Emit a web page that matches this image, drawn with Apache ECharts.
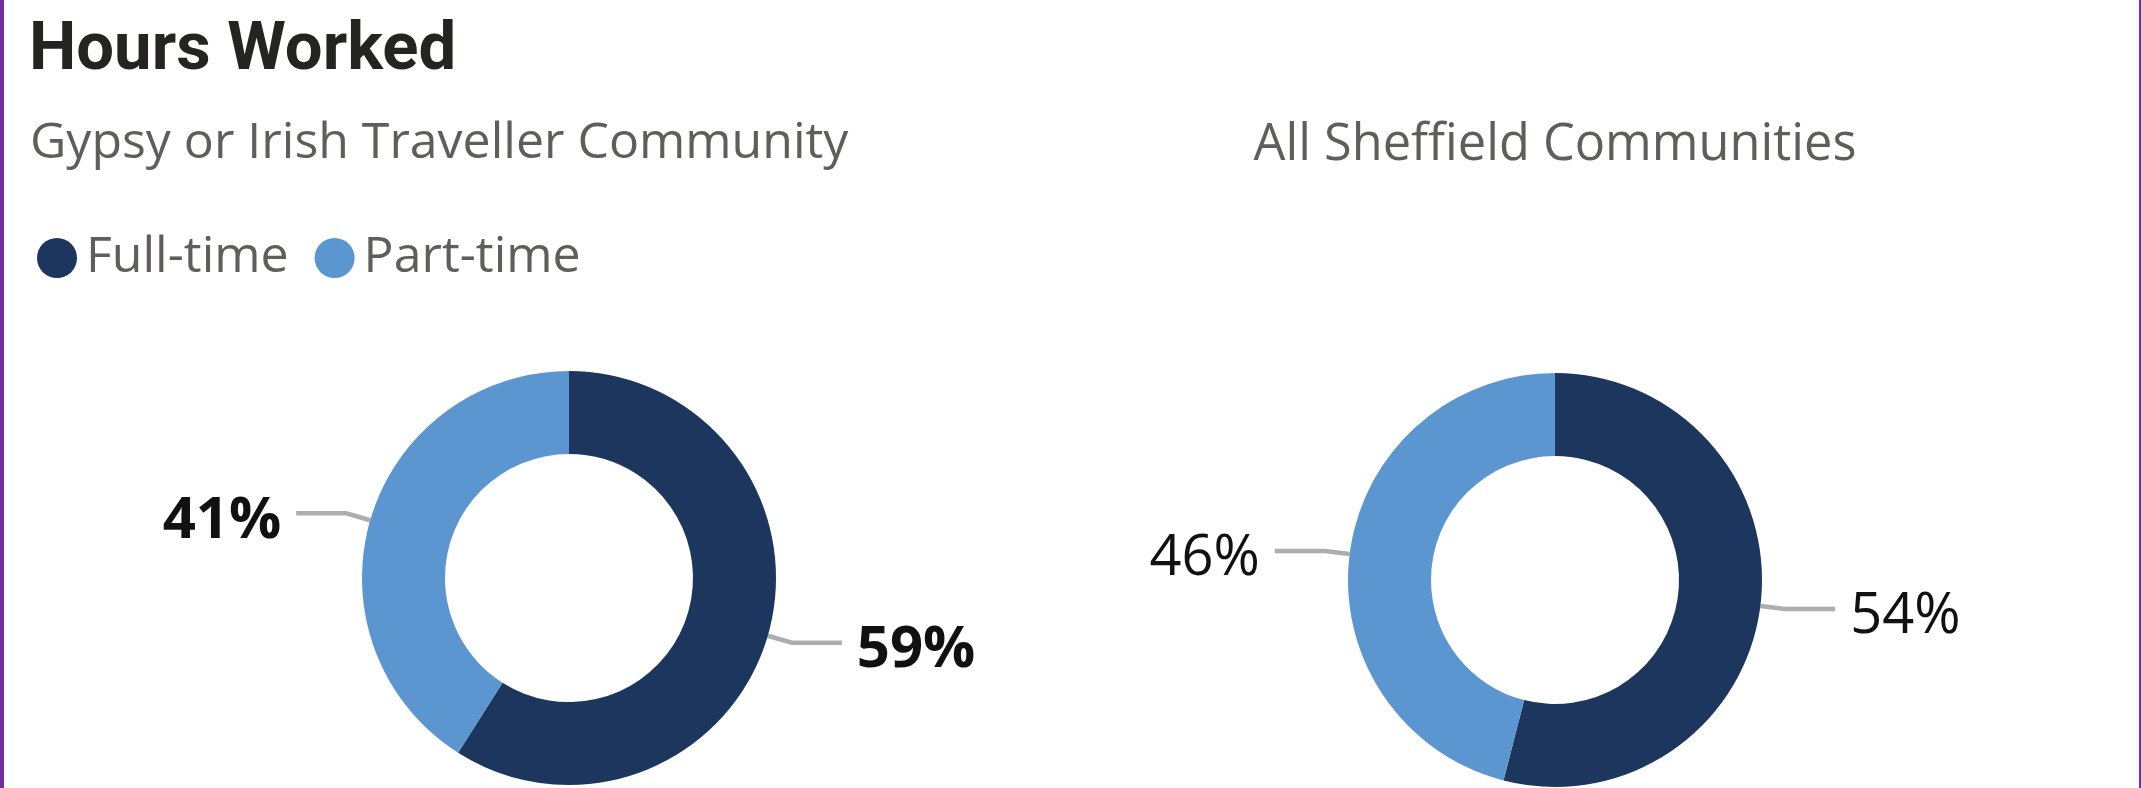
<!DOCTYPE html>
<html>
<head>
<meta charset="utf-8">
<title>Hours Worked</title>
<script src="https://cdn.jsdelivr.net/npm/echarts@6/dist/echarts.min.js"></script>
<style>
  html, body { margin: 0; padding: 0; background: #fff; }
  #main { width: 2141px; height: 788px; }
</style>
</head>
<body>
<div id="main"></div>
<script>
// data
var categories = ['Full-time', 'Part-time'];
var gypsyValues = [59, 41];
var sheffieldValues = [54, 46];
var panelTitles = ['Gypsy or Irish Traveller Community', 'All Sheffield Communities'];
var chartTitle = 'Hours Worked';

var colors = ['#1C365E', '#5C96D0'];

function toData(values) {
  return categories.map(function (name, i) {
    return { name: name, value: values[i] };
  });
}

function pieSeries(name, values, center, bold) {
  return {
    name: name,
    type: 'pie',
    center: center,
    radius: [124, 207],
    startAngle: 90,
    clockwise: true,
    avoidLabelOverlap: false,
    silent: true,
    label: {
      show: true,
      position: 'outside',
      formatter: '{c}%',
      fontFamily: 'Open Sans',
      fontSize: bold ? 58 : 56,
      fontWeight: bold ? 'bold' : 'normal',
      color: '#111',
      distanceToLabelLine: 15
    },
    // text sits a bit below its leader line
    labelLayout: function () {
      return { dy: 8 };
    },
    labelLine: {
      show: true,
      length: 25,
      length2: 50,
      lineStyle: { color: '#ADADAD', width: 4.5 }
    },
    data: toData(values)
  };
}

var chart = echarts.init(document.getElementById('main'));
chart.setOption({
  animation: false,
  color: colors,
  legend: {
    data: categories,
    left: 32,
    top: 228,
    icon: 'circle',
    itemWidth: 40,
    itemHeight: 40,
    itemGap: 26,
    selectedMode: false,
    textStyle: {
      fontFamily: 'Open Sans',
      fontSize: 50,
      color: '#605E5C',
      padding: [0, 0, 0, 4]
    }
  },
  graphic: [
    { type: 'rect', shape: { x: 0, y: 0, width: 4, height: 788 }, style: { fill: '#7030A0' } },
    { type: 'rect', shape: { x: 2139, y: 0, width: 2, height: 788 }, style: { fill: '#7030A0' } },
    {
      type: 'text', x: 29, y: 52,
      style: { text: chartTitle, font: 'bold 67px Roboto', fill: '#252423', verticalAlign: 'middle' }
    },
    {
      type: 'text', x: 30, y: 144,
      style: { text: panelTitles[0], font: '50px "Open Sans"', fill: '#605E5C', verticalAlign: 'middle' }
    },
    {
      type: 'text', x: 1555, y: 146,
      style: { text: panelTitles[1], font: '50.5px "Open Sans"', fill: '#605E5C', align: 'center', verticalAlign: 'middle' }
    }
  ],
  series: [
    pieSeries(panelTitles[0], gypsyValues, [569, 578], true),
    pieSeries(panelTitles[1], sheffieldValues, [1555, 580], false)
  ]
});
</script>
</body>
</html>
